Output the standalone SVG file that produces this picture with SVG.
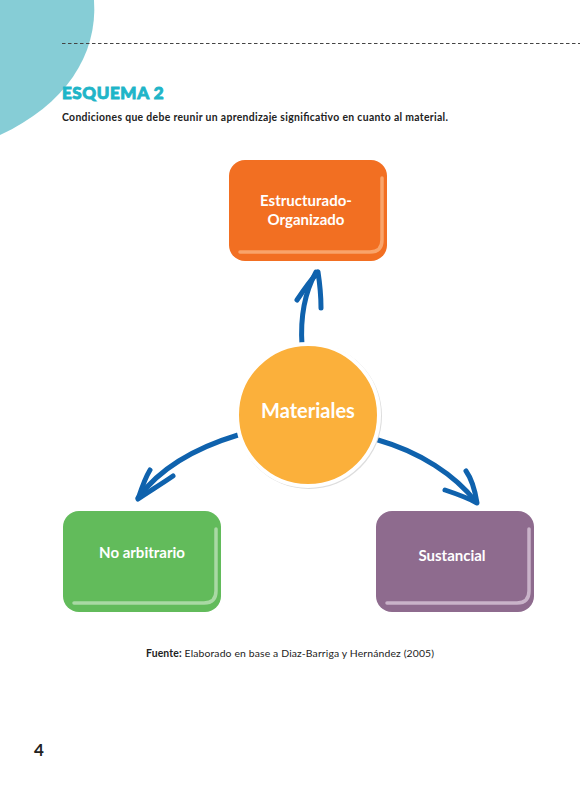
<svg xmlns="http://www.w3.org/2000/svg" width="580" height="794" viewBox="0 0 580 794">
<defs>
<style>
.t{font-family:"Lato","Open Sans","Liberation Sans",sans-serif;font-weight:bold;fill:#fff;text-anchor:middle}
.arrow{fill:none;stroke:#0f62ad;stroke-width:5;stroke-linecap:round;stroke-linejoin:round}
.hl{fill:none;stroke-width:3.5;stroke-linecap:round}
</style>
</defs>
<rect width="580" height="794" fill="#fff"/>
<path d="M0,0 H94 C98,55 65,105 0,135 Z" fill="#86cdd6"/>
<line x1="62" y1="43.5" x2="580" y2="43.5" stroke="#444" stroke-width="1" stroke-dasharray="3.5,2.5"/>
<text x="62" y="99" font-family="'Lato','Liberation Sans',sans-serif" font-weight="900" font-size="17" fill="#1fb5c8" stroke="#1fb5c8" stroke-width="0.9" letter-spacing="0.6">ESQUEMA 2</text>
<text x="62" y="121" font-family="'Lato','Liberation Sans',sans-serif" font-weight="bold" font-size="10.4" fill="#222" textLength="386" lengthAdjust="spacing">Condiciones que debe reunir un aprendizaje significativo en cuanto al material.</text>

<g id="connectors">
<path class="arrow" d="M302,345 C300,315 305,292 316,272"/>
<path class="arrow" d="M297,300 C305,288 311,280 318,272 C320,285 321,297 321,308"/>
<path class="arrow" d="M238,435 C195,448 160,468 138,498"/>
<path class="arrow" d="M173,476 C160,485 148,492 138,499 C142,487 145,478 150,470"/>
<path class="arrow" d="M378,440 C420,452 455,475 476,502"/>
<path class="arrow" d="M445,490 C457,494 468,498 477,503 C475,490 471,478 466,471"/>
</g>

<g id="estructurado">
<rect x="229" y="160" width="158" height="101" rx="16" fill="#f26f22"/>
<path class="hl" stroke="#f9a46a" d="M240,252 H370 Q382,252 382,240 V178"/>
<text class="t" x="306" y="206" font-size="15">Estructurado-</text>
<text class="t" x="306" y="225" font-size="15">Organizado</text>
</g>

<g id="materiales">
<circle cx="309" cy="416" r="73" fill="#ddd"/>
<circle cx="308" cy="415" r="71" fill="#fbb03b" stroke="#fff" stroke-width="4"/>
<text class="t" x="308" y="418" font-size="20">Materiales</text>
</g>

<g id="noarbitrario">
<rect x="63" y="511" width="158" height="101" rx="16" fill="#62bb5b"/>
<path class="hl" stroke="#a9d9a4" d="M74,603 H204 Q216,603 216,591 V529"/>
<text class="t" x="142" y="558" font-size="15">No arbitrario</text>
</g>

<g id="sustancial">
<rect x="376" y="511" width="158" height="101" rx="16" fill="#8e6b8e"/>
<path class="hl" stroke="#c9b3c9" d="M387,603 H517 Q529,603 529,591 V529"/>
<text class="t" x="452" y="561" font-size="15">Sustancial</text>
</g>

<text x="146" y="657" font-family="'Lato','Liberation Sans',sans-serif" font-size="10.4" fill="#222" textLength="288" lengthAdjust="spacing"><tspan font-weight="bold">Fuente:</tspan>  Elaborado en base a Diaz-Barriga y Hernández (2005)</text>
<text x="34" y="756" font-family="'Lato','Liberation Sans',sans-serif" font-weight="bold" font-size="17" fill="#222">4</text>
</svg>
